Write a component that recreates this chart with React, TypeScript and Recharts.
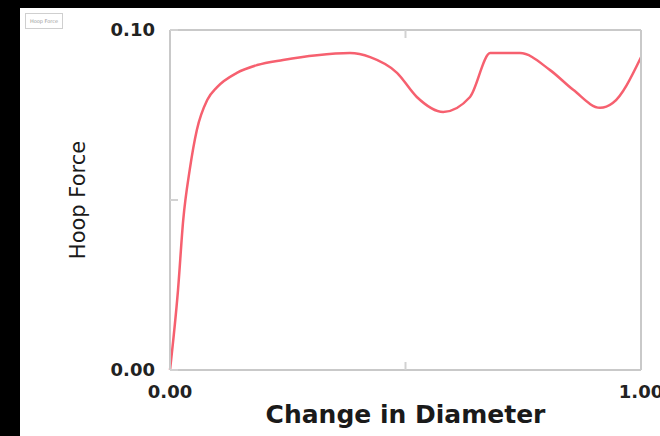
import { LineChart, Line, XAxis, YAxis, Label } from 'recharts'

// values
const diameterChange = [0, 0.017, 0.028, 0.042, 0.057, 0.079, 0.1, 0.142, 0.185, 0.24, 0.312, 0.382, 0.425, 0.482, 0.524, 0.58, 0.637, 0.68, 0.743, 0.807, 0.856, 0.913, 0.94, 1.0]
const hoopForce = [0, 0.0235, 0.044, 0.059, 0.0706, 0.0794, 0.0832, 0.0874, 0.0897, 0.0912, 0.0926, 0.0932, 0.092, 0.0874, 0.0803, 0.0759, 0.0803, 0.0932, 0.0932, 0.0882, 0.0824, 0.0771, 0.0785, 0.092]
const xTicks = [0, 0.5, 1]
const yTicks = [0, 0.05, 0.1]

const data = diameterChange.map((d, i) => ({ d, f: hoopForce[i] }))

const FRAME = { stroke: '#c9c9c9', strokeWidth: 2 }
const TICK_LINE = { stroke: '#d2d2d2', strokeWidth: 2 }
const TICK_FONT = { fontFamily: 'DejaVu Sans', fontWeight: 700, fontSize: 18, fill: '#222' }
const blank = () => ''

// the little legend box in the top-left corner
function LegendBox() {
  return (
    <div
      style={{
        position: 'absolute',
        left: 5,
        top: 5,
        width: 36,
        height: 14,
        border: '1px solid #cfcfcf',
        display: 'flex',
        alignItems: 'center',
        justifyContent: 'center',
        fontFamily: 'DejaVu Sans',
        fontSize: 5,
        color: '#999',
      }}
    >
      Hoop Force
    </div>
  )
}

export default function App() {
  return (
    <div style={{ position: 'absolute', left: 0, top: 0, width: 660, height: 436, background: '#000' }}>
      <div style={{ position: 'absolute', left: 20, top: 8, width: 640, height: 428, background: '#fff' }}>
        <LegendBox />
        <LineChart width={640} height={428} data={data} margin={{ top: 21, right: 18, left: 70, bottom: 6 }}>
          <XAxis
            xAxisId="b"
            dataKey="d"
            type="number"
            domain={[0, 1]}
            ticks={xTicks}
            tickFormatter={(v: number) => (v === 0.5 ? '' : v.toFixed(2))}
            axisLine={FRAME}
            tickLine={TICK_LINE}
            tickSize={-8}
            tickMargin={23}
            tick={TICK_FONT}
            height={60}
            interval={0}
          >
            <Label
              value="Change in Diameter"
              position="insideBottom"
              offset={7}
              style={{ fontFamily: 'DejaVu Sans', fontWeight: 700, fontSize: 25, fill: '#1a1a1a' }}
            />
          </XAxis>
          <XAxis
            xAxisId="t"
            dataKey="d"
            type="number"
            orientation="top"
            domain={[0, 1]}
            ticks={[0.5]}
            tickFormatter={blank}
            axisLine={FRAME}
            tickLine={TICK_LINE}
            tickSize={-8}
            height={1}
            interval={0}
          />
          <YAxis
            yAxisId="l"
            type="number"
            domain={[0, 0.1]}
            ticks={yTicks}
            tickFormatter={(v: number) => (v === 0.05 ? '' : v.toFixed(2))}
            axisLine={FRAME}
            tickLine={TICK_LINE}
            tickSize={-8}
            tickMargin={23}
            tick={TICK_FONT}
            width={80}
            interval={0}
          >
            <Label
              value="Hoop Force"
              angle={-90}
              position="center"
              dx={-52}
              style={{ fontFamily: 'DejaVu Sans', fontSize: 21, fill: '#1a1a1a', textAnchor: 'middle' }}
            />
          </YAxis>
          <YAxis
            yAxisId="r"
            type="number"
            orientation="right"
            domain={[0, 0.1]}
            ticks={[0.05]}
            tickFormatter={blank}
            axisLine={FRAME}
            tickLine={TICK_LINE}
            tickSize={-8}
            width={1}
            interval={0}
          />
          <Line
            xAxisId="b"
            yAxisId="l"
            type="monotone"
            dataKey="f"
            stroke="#f6606f"
            strokeWidth={2.5}
            dot={false}
            isAnimationActive={false}
          />
        </LineChart>
      </div>
    </div>
  )
}
